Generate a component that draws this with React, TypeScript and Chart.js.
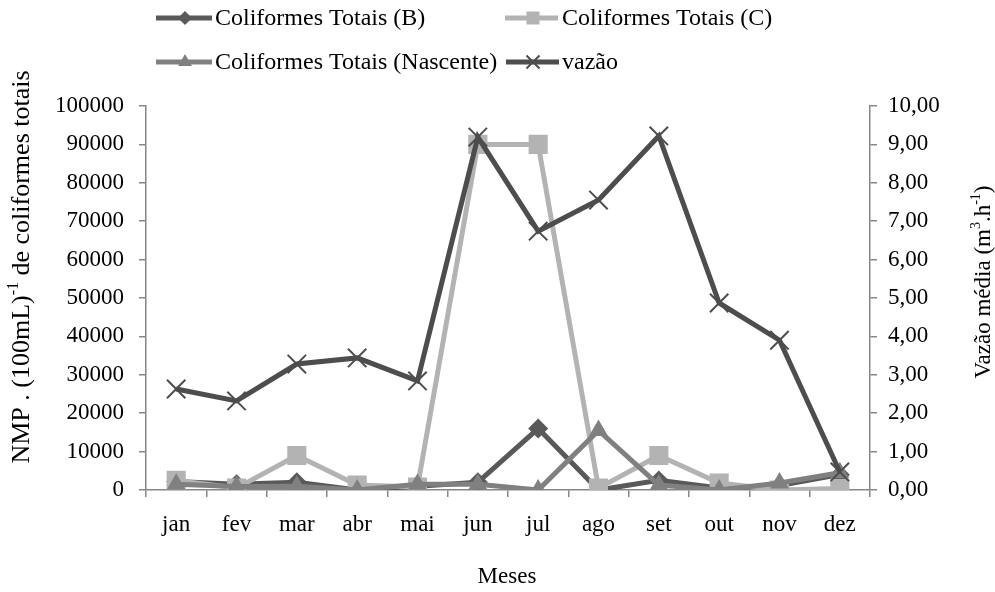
import React, { useEffect, useRef } from "react";
import { Chart, registerables } from "chart.js";

Chart.register(...registerables);

const months = ["jan", "fev", "mar", "abr", "mai", "jun", "jul", "ago", "set", "out", "nov", "dez"];
const coliformesB = [2200, 1500, 2000, 0, 1000, 2000, 16000, 0, 2500, 500, 1200, 4000];
const coliformesC = [2500, 500, 9000, 1300, 800, 90000, 90000, 500, 9000, 1800, 0, 400];
const coliformesNascente = [1500, 900, 1000, 0, 1500, 1500, 0, 15500, 1300, 0, 1800, 4500];
const vazao = [2.63, 2.32, 3.28, 3.44, 2.84, 9.19, 6.74, 7.55, 9.22, 4.87, 3.9, 0.47];

const legendLabels = ["Coliformes Totais (B)", "Coliformes Totais (C)", "Coliformes Totais (Nascente)", "vazão"];

const COL_B = "#595959";
const COL_C = "#b3b3b3";
const COL_N = "#808080";
const COL_V = "#4d4d4d";
const AXIS = "#868686";
const FONT = "'Liberation Serif', 'Times New Roman', serif";

type Part = { t: string; sup?: boolean };

function drawRich(ctx: CanvasRenderingContext2D, parts: Part[], cx: number, cy: number, size: number) {
  const supSize = Math.round(size * 0.62);
  let total = 0;
  for (const p of parts) {
    ctx.font = `${p.sup ? supSize : size}px ${FONT}`;
    total += ctx.measureText(p.t).width;
  }
  let x = cx - total / 2;
  ctx.textBaseline = "middle";
  ctx.textAlign = "left";
  for (const p of parts) {
    ctx.font = `${p.sup ? supSize : size}px ${FONT}`;
    ctx.fillText(p.t, x, p.sup ? cy - size * 0.32 : cy);
    x += ctx.measureText(p.t).width;
  }
}

function drawMarker(ctx: CanvasRenderingContext2D, kind: string, x: number, y: number, color: string) {
  ctx.save();
  ctx.fillStyle = color;
  ctx.strokeStyle = color;
  ctx.beginPath();
  if (kind === "diamond") {
    const r = 7;
    ctx.moveTo(x, y - r);
    ctx.lineTo(x + r, y);
    ctx.lineTo(x, y + r);
    ctx.lineTo(x - r, y);
    ctx.closePath();
    ctx.fill();
  } else if (kind === "square") {
    const s = 6.5;
    ctx.rect(x - s, y - s, 2 * s, 2 * s);
    ctx.fill();
  } else if (kind === "triangle") {
    const r = 8;
    ctx.moveTo(x, y - r);
    ctx.lineTo(x + r * 0.866, y + r * 0.5);
    ctx.lineTo(x - r * 0.866, y + r * 0.5);
    ctx.closePath();
    ctx.fill();
  } else if (kind === "x") {
    const r = 6.5;
    ctx.lineWidth = 2;
    ctx.moveTo(x - r, y - r);
    ctx.lineTo(x + r, y + r);
    ctx.moveTo(x + r, y - r);
    ctx.lineTo(x - r, y + r);
    ctx.stroke();
  }
  ctx.restore();
}

const decorPlugin = {
  id: "decor",
  afterDraw(chart: any) {
    const ctx: CanvasRenderingContext2D = chart.ctx;
    ctx.save();
    const items = [
      { label: legendLabels[0], color: COL_B, kind: "diamond", x0: 156, x1: 212, mx: 185, tx: 215, y: 18 },
      { label: legendLabels[1], color: COL_C, kind: "square", x0: 505, x1: 558, mx: 533, tx: 562, y: 18 },
      { label: legendLabels[2], color: COL_N, kind: "triangle", x0: 156, x1: 212, mx: 185, tx: 215, y: 62 },
      { label: legendLabels[3], color: COL_V, kind: "x", x0: 506, x1: 559, mx: 533, tx: 562, y: 62 },
    ];
    for (const it of items) {
      ctx.strokeStyle = it.color;
      ctx.lineWidth = 5;
      ctx.beginPath();
      ctx.moveTo(it.x0, it.y);
      ctx.lineTo(it.x1, it.y);
      ctx.stroke();
      drawMarker(ctx, it.kind, it.mx, it.y, it.color);
      ctx.fillStyle = "#000";
      ctx.font = `24px ${FONT}`;
      ctx.textAlign = "left";
      ctx.textBaseline = "middle";
      ctx.fillText(it.label, it.tx, it.y + 1);
    }
    ctx.fillStyle = "#000";
    ctx.save();
    ctx.translate(22, 267);
    ctx.rotate(-Math.PI / 2);
    drawRich(ctx, [{ t: "NMP . (100mL)" }, { t: "-1", sup: true }, { t: " de coliformes totais" }], 0, 0, 26);
    ctx.restore();
    ctx.save();
    ctx.translate(984, 282);
    ctx.rotate(-Math.PI / 2);
    drawRich(ctx, [{ t: "Vazão média (m" }, { t: "3", sup: true }, { t: ".h" }, { t: "-1", sup: true }, { t: ")" }], 0, 0, 23);
    ctx.restore();
    drawRich(ctx, [{ t: "Meses" }], 507, 577, 23);
    ctx.restore();
  },
};

export default function App() {
  const ref = useRef<HTMLCanvasElement | null>(null);
  useEffect(() => {
    if (!ref.current) return;
    const tickFont = { family: FONT, size: 23 };
    const chart = new Chart(ref.current, {
      type: "line",
      data: {
        labels: months,
        datasets: [
          {
            label: legendLabels[0],
            data: coliformesB,
            yAxisID: "y",
            borderColor: COL_B,
            backgroundColor: COL_B,
            borderWidth: 5,
            pointStyle: "rectRot",
            pointRadius: 10,
            pointBorderWidth: 0,
            pointBackgroundColor: COL_B,
            order: 3,
          },
          {
            label: legendLabels[1],
            data: coliformesC,
            yAxisID: "y",
            borderColor: COL_C,
            backgroundColor: COL_C,
            borderWidth: 5,
            pointStyle: "rect",
            pointRadius: 13.5,
            pointBorderWidth: 0,
            pointBackgroundColor: COL_C,
            order: 2,
          },
          {
            label: legendLabels[2],
            data: coliformesNascente,
            yAxisID: "y",
            borderColor: COL_N,
            backgroundColor: COL_N,
            borderWidth: 5,
            pointStyle: "triangle",
            pointRadius: 11,
            pointBorderWidth: 0,
            pointBackgroundColor: COL_N,
            order: 1,
          },
          {
            label: legendLabels[3],
            data: vazao,
            yAxisID: "y1",
            borderColor: COL_V,
            backgroundColor: COL_V,
            borderWidth: 5,
            pointStyle: "crossRot",
            pointRadius: 13,
            pointBorderWidth: 2,
            pointBorderColor: COL_V,
            order: 0,
          },
        ],
      },
      options: {
        responsive: false,
        animation: false,
        layout: { padding: { top: 106, left: 0, right: 0, bottom: 0 } },
        plugins: { legend: { display: false }, tooltip: { enabled: false } },
        elements: { line: { tension: 0 } },
        scales: {
          x: {
            offset: true,
            grid: { display: true, offset: true, drawOnChartArea: false, drawTicks: true, tickLength: 7, color: AXIS, lineWidth: 1.5 },
            border: { display: true, color: AXIS, width: 1.5 },
            ticks: { color: "#000", font: tickFont, padding: 14, maxRotation: 0, autoSkip: false },
            afterFit: (s: any) => {
              s.height = 102;
            },
          },
          y: {
            position: "left",
            min: 0,
            max: 100000,
            grid: { display: true, drawOnChartArea: false, drawTicks: true, tickLength: 7, color: AXIS, lineWidth: 1.5 },
            border: { display: true, color: AXIS, width: 1.5 },
            ticks: { stepSize: 10000, color: "#000", font: tickFont, padding: 15, callback: (v: any) => String(v) },
            afterFit: (s: any) => {
              s.width = 146;
            },
          },
          y1: {
            position: "right",
            min: 0,
            max: 10,
            grid: { display: true, drawOnChartArea: false, drawTicks: true, tickLength: 7, color: AXIS, lineWidth: 1.5 },
            border: { display: true, color: AXIS, width: 1.5 },
            ticks: { stepSize: 1, color: "#000", font: tickFont, padding: 11, callback: (v: any) => Number(v).toFixed(2).replace(".", ",") },
            afterFit: (s: any) => {
              s.width = 125;
            },
          },
        },
      },
      plugins: [decorPlugin],
    });
    return () => chart.destroy();
  }, []);
  return (
    <div style={{ position: "absolute", left: 0, top: 0, width: 995, height: 592, background: "#fff" }}>
      <canvas ref={ref} width={995} height={592} style={{ display: "block" }} />
    </div>
  );
}
